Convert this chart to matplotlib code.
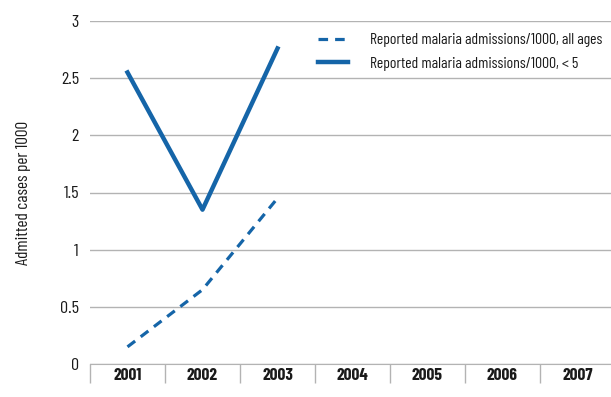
import matplotlib
matplotlib.use("Agg")
import matplotlib.pyplot as plt

plt.rcParams['font.family'] = ['Barlow Condensed', 'DejaVu Sans']

years = ['2001', '2002', '2003', '2004', '2005', '2006', '2007']
all_ages = [0.15, 0.65, 1.45]
under5 = [2.55, 1.35, 2.76]
yticks = [0, 0.5, 1, 1.5, 2, 2.5, 3]
ytick_labels = ['0', '0.5', '1', '1.5', '2', '2.5', '3']

blue = '#1565a8'
grid = '#b3b3b3'
txt = '#1a1a1a'

fig = plt.figure(figsize=(6.11, 3.97), dpi=100)
ax = fig.add_axes([90/611, 1-364/397, (615-90)/611, (364-21)/397])

xs = [i + 0.5 for i in range(len(years))]
ax.plot(xs[:len(all_ages)], all_ages, color=blue, lw=2.3, ls=(0, (3, 2.2)),
        label='Reported malaria admissions/1000, all ages')
ax.plot(xs[:len(under5)], under5, color=blue, lw=3.2,
        label='Reported malaria admissions/1000, < 5')

ax.set_xlim(0, len(years))
ax.set_ylim(0, 3)
ax.set_yticks(yticks)
ax.set_yticklabels(ytick_labels, fontsize=13, color=txt)
ax.yaxis.grid(True, color=grid, lw=1)
ax.set_axisbelow(True)
ax.tick_params(axis='y', length=0, pad=8)

ax.set_xticks(xs)
ax.set_xticklabels(years, fontsize=12.5, fontweight='bold', color=txt)
ax.set_xticks(range(len(years)), minor=True)
ax.tick_params(axis='x', which='major', length=0, pad=3)
ax.tick_params(axis='x', which='minor', length=14, color=grid, width=1)

for s in ['top', 'right', 'left']:
    ax.spines[s].set_visible(False)
ax.spines['bottom'].set_color(grid)

ax.set_ylabel('Admitted cases per 1000', fontsize=12.5, labelpad=21, color=txt)

leg = ax.legend(loc='upper left', bbox_to_anchor=((318-90)/525, (364-33)/343), frameon=False,
                fontsize=11.3, handlelength=1.9, handletextpad=1.4, labelspacing=0.62,
                borderaxespad=0, borderpad=0)
for t in leg.get_texts():
    t.set_color(txt)

fig.savefig('out.png', dpi=100)
